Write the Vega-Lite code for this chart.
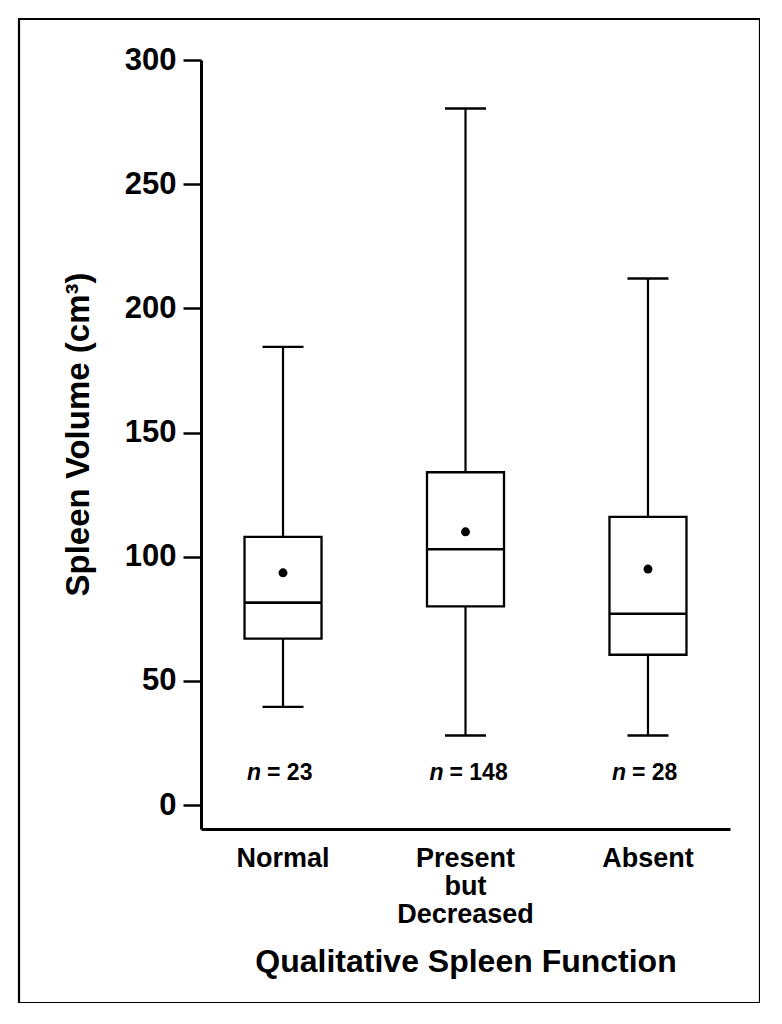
{
  "$schema": "https://vega.github.io/schema/vega-lite/v6.json",
  "autosize": "none",
  "padding": {"left": 19, "top": 19, "right": 0, "bottom": 0},
  "width": 741,
  "height": 984,
  "background": "white",
  "data": {
    "values": [
      {"cat": "Normal", "low": 39.5, "q1": 67, "median": 81.5, "q3": 108, "high": 184.5, "mean": 93.5, "n": 23},
      {"cat": "Present but Decreased", "low": 28, "q1": 80, "median": 103, "q3": 134, "high": 280.5, "mean": 110, "n": 148},
      {"cat": "Absent", "low": 28, "q1": 60.5, "median": 77, "q3": 116, "high": 212, "mean": 95, "n": 28}
    ]
  },
  "transform": [{"calculate": "'= ' + datum.n", "as": "nlabel"}],
  "encoding": {
    "x": {
      "field": "cat", "type": "nominal", "sort": null,
      "scale": {"range": [182, 711], "paddingInner": 0.578, "paddingOuter": 0.2385},
      "axis": {
        "title": "Qualitative Spleen Function",
        "orient": "bottom",
        "offset": -174,
        "labelAngle": 0,
        "ticks": false,
        "tickSize": 0,
        "labelPadding": 16,
        "labelFontSize": 27,
        "labelLineHeight": 28,
        "labelExpr": "datum.label == 'Present but Decreased' ? ['Present', 'but', 'Decreased'] : datum.label",
        "titleFontSize": 32,
        "titlePadding": 19,
        "domainWidth": 3
      }
    }
  },
  "layer": [
    {
      "mark": {"type": "rule", "color": "black", "strokeWidth": 2.2},
      "encoding": {
        "y": {
          "field": "low", "type": "quantitative",
          "scale": {"domain": [-9.66, 300], "range": [810, 41], "nice": false, "zero": false},
          "axis": {
            "title": "Spleen Volume (cm³)",
            "orient": "left",
            "offset": -182,
            "values": [0, 50, 100, 150, 200, 250, 300],
            "tickSize": 18,
            "tickWidth": 2.5,
            "labelPadding": 7,
            "labelFontSize": 31,
            "titleFontSize": 33,
            "titlePadding": 29,
            "titleY": 415,
            "domainWidth": 3
          }
        },
        "y2": {"field": "high"}
      }
    },
    {
      "mark": {"type": "bar", "fill": "white", "stroke": "black", "strokeWidth": 2.3},
      "encoding": {
        "y": {"field": "q1", "type": "quantitative"},
        "y2": {"field": "q3"}
      }
    },
    {
      "mark": {"type": "tick", "color": "black", "size": 77, "thickness": 2.6, "opacity": 1},
      "encoding": {"y": {"field": "median", "type": "quantitative"}}
    },
    {
      "mark": {"type": "tick", "color": "black", "size": 41, "thickness": 2.4, "opacity": 1},
      "encoding": {"y": {"field": "low", "type": "quantitative"}}
    },
    {
      "mark": {"type": "tick", "color": "black", "size": 41, "thickness": 2.4, "opacity": 1},
      "encoding": {"y": {"field": "high", "type": "quantitative"}}
    },
    {
      "mark": {"type": "point", "filled": true, "color": "black", "size": 80, "opacity": 1},
      "encoding": {"y": {"field": "mean", "type": "quantitative"}}
    },
    {
      "mark": {"type": "text", "text": "n", "font": "Liberation Sans", "fontStyle": "italic", "fontWeight": "bold", "fontSize": 23, "align": "right", "baseline": "middle", "dx": -22, "color": "black"},
      "encoding": {"y": {"datum": 13}}
    },
    {
      "mark": {"type": "text", "font": "Liberation Sans", "fontWeight": "bold", "fontSize": 23, "align": "left", "baseline": "middle", "dx": -16, "color": "black"},
      "encoding": {"y": {"datum": 13}, "text": {"field": "nlabel"}}
    }
  ],
  "config": {
    "view": {"stroke": "black", "strokeWidth": 2.2},
    "axis": {
      "grid": false,
      "labelFont": "Liberation Sans",
      "titleFont": "Liberation Sans",
      "labelFontWeight": "bold",
      "titleFontWeight": "bold",
      "labelColor": "black",
      "titleColor": "black",
      "domainColor": "black",
      "tickColor": "black"
    }
  }
}
